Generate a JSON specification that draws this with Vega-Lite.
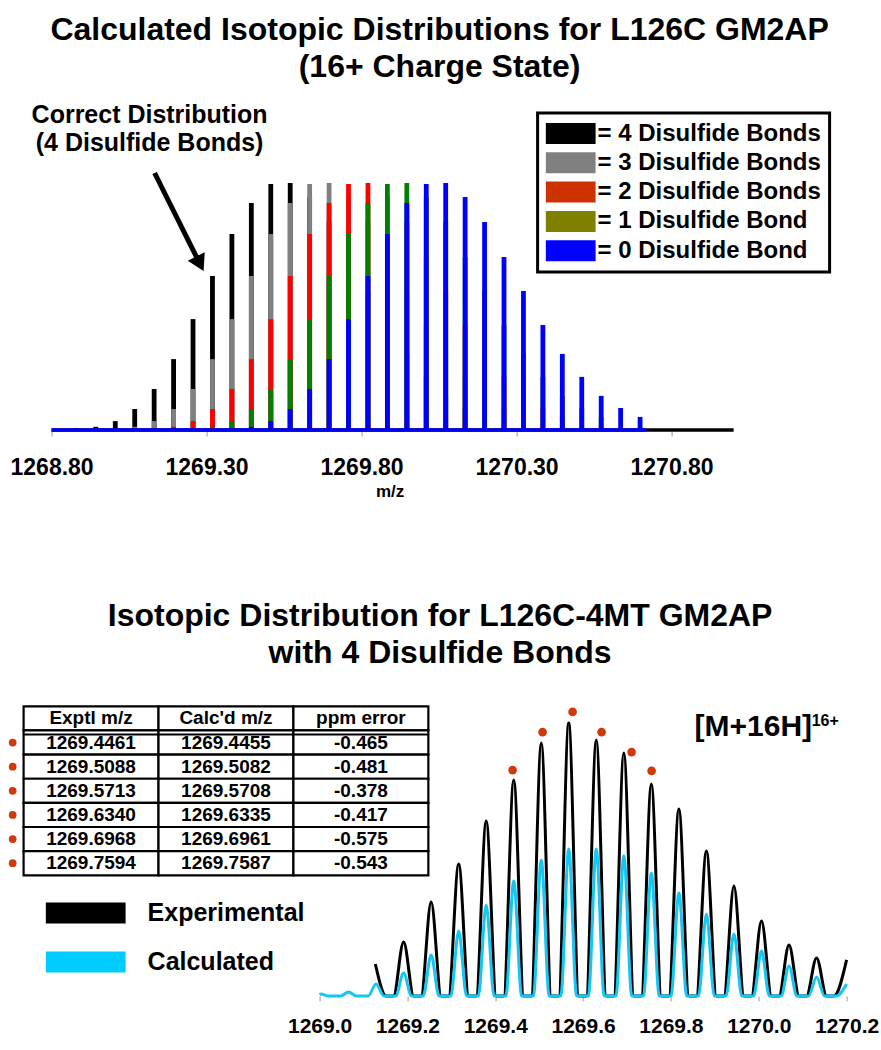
{
"$schema":"https://vega.github.io/schema/vega-lite/v6.json",
"background":"white",
"padding":{"left":8.6,"top":14,"right":2,"bottom":2},
"config":{"view":{"stroke":null},"font":"Liberation Sans","title":{"font":"Liberation Sans","fontSize":32,"fontWeight":"bold","color":"black","lineHeight":37,"anchor":"middle"}},
"bounds":"flush",
"spacing":271,
"resolve":{"scale":{"fill":"independent","stroke":"independent","color":"independent"},"legend":{"fill":"independent","stroke":"independent"}},
"vconcat":[
{
"width":710,"height":330,
"title":{"text":["Calculated Isotopic Distributions for L126C GM2AP","(16+ Charge State)"],"frame":"group","dx":61,"offset":16},
"layer":[
{"data":{"values":[
{"b":"4","m":1268.8800,"h":0.7},{"b":"4","m":1268.9427,"h":1.3},{"b":"4","m":1269.0054,"h":3.6},{"b":"4","m":1269.0681,"h":8.5},{"b":"4","m":1269.1308,"h":16.6},{"b":"4","m":1269.1935,"h":28.7},{"b":"4","m":1269.2562,"h":44.9},{"b":"4","m":1269.3189,"h":62.3},{"b":"4","m":1269.3816,"h":79.4},{"b":"4","m":1269.4443,"h":91.9},{"b":"4","m":1269.5070,"h":99.6},{"b":"4","m":1269.5697,"h":100},{"b":"4","m":1269.6324,"h":94.3},{"b":"4","m":1269.6951,"h":84.2},{"b":"4","m":1269.7578,"h":70.0},{"b":"4","m":1269.8205,"h":56.3},{"b":"4","m":1269.8832,"h":42.5},{"b":"4","m":1269.9459,"h":30.8},{"b":"4","m":1270.0086,"h":21.5},{"b":"4","m":1270.0713,"h":13.8},{"b":"4","m":1270.1340,"h":8.9},{"b":"4","m":1270.1967,"h":5.3},
{"b":"3","m":1269.0054,"h":0.7},{"b":"3","m":1269.0681,"h":1.3},{"b":"3","m":1269.1308,"h":3.6},{"b":"3","m":1269.1935,"h":8.5},{"b":"3","m":1269.2562,"h":16.6},{"b":"3","m":1269.3189,"h":28.7},{"b":"3","m":1269.3816,"h":44.9},{"b":"3","m":1269.4443,"h":62.3},{"b":"3","m":1269.5070,"h":79.4},{"b":"3","m":1269.5697,"h":91.9},{"b":"3","m":1269.6324,"h":99.6},{"b":"3","m":1269.6951,"h":100},{"b":"3","m":1269.7578,"h":94.3},{"b":"3","m":1269.8205,"h":84.2},{"b":"3","m":1269.8832,"h":70.0},{"b":"3","m":1269.9459,"h":56.3},{"b":"3","m":1270.0086,"h":42.5},{"b":"3","m":1270.0713,"h":30.8},{"b":"3","m":1270.1340,"h":21.5},{"b":"3","m":1270.1967,"h":13.8},{"b":"3","m":1270.2594,"h":8.9},{"b":"3","m":1270.3221,"h":5.3},
{"b":"2","m":1269.1308,"h":0.7},{"b":"2","m":1269.1935,"h":1.3},{"b":"2","m":1269.2562,"h":3.6},{"b":"2","m":1269.3189,"h":8.5},{"b":"2","m":1269.3816,"h":16.6},{"b":"2","m":1269.4443,"h":28.7},{"b":"2","m":1269.5070,"h":44.9},{"b":"2","m":1269.5697,"h":62.3},{"b":"2","m":1269.6324,"h":79.4},{"b":"2","m":1269.6951,"h":91.9},{"b":"2","m":1269.7578,"h":99.6},{"b":"2","m":1269.8205,"h":100},{"b":"2","m":1269.8832,"h":94.3},{"b":"2","m":1269.9459,"h":84.2},{"b":"2","m":1270.0086,"h":70.0},{"b":"2","m":1270.0713,"h":56.3},{"b":"2","m":1270.1340,"h":42.5},{"b":"2","m":1270.1967,"h":30.8},{"b":"2","m":1270.2594,"h":21.5},{"b":"2","m":1270.3221,"h":13.8},{"b":"2","m":1270.3848,"h":8.9},{"b":"2","m":1270.4475,"h":5.3},
{"b":"1","m":1269.2562,"h":0.7},{"b":"1","m":1269.3189,"h":1.3},{"b":"1","m":1269.3816,"h":3.6},{"b":"1","m":1269.4443,"h":8.5},{"b":"1","m":1269.5070,"h":16.6},{"b":"1","m":1269.5697,"h":28.7},{"b":"1","m":1269.6324,"h":44.9},{"b":"1","m":1269.6951,"h":62.3},{"b":"1","m":1269.7578,"h":79.4},{"b":"1","m":1269.8205,"h":91.9},{"b":"1","m":1269.8832,"h":99.6},{"b":"1","m":1269.9459,"h":100},{"b":"1","m":1270.0086,"h":94.3},{"b":"1","m":1270.0713,"h":84.2},{"b":"1","m":1270.1340,"h":70.0},{"b":"1","m":1270.1967,"h":56.3},{"b":"1","m":1270.2594,"h":42.5},{"b":"1","m":1270.3221,"h":30.8},{"b":"1","m":1270.3848,"h":21.5},{"b":"1","m":1270.4475,"h":13.8},{"b":"1","m":1270.5102,"h":8.9},{"b":"1","m":1270.5729,"h":5.3},
{"b":"0","m":1269.3816,"h":0.7},{"b":"0","m":1269.4443,"h":1.3},{"b":"0","m":1269.5070,"h":3.6},{"b":"0","m":1269.5697,"h":8.5},{"b":"0","m":1269.6324,"h":16.6},{"b":"0","m":1269.6951,"h":28.7},{"b":"0","m":1269.7578,"h":44.9},{"b":"0","m":1269.8205,"h":62.3},{"b":"0","m":1269.8832,"h":79.4},{"b":"0","m":1269.9459,"h":91.9},{"b":"0","m":1270.0086,"h":99.6},{"b":"0","m":1270.0713,"h":100},{"b":"0","m":1270.1340,"h":94.3},{"b":"0","m":1270.1967,"h":84.2},{"b":"0","m":1270.2594,"h":70.0},{"b":"0","m":1270.3221,"h":56.3},{"b":"0","m":1270.3848,"h":42.5},{"b":"0","m":1270.4475,"h":30.8},{"b":"0","m":1270.5102,"h":21.5},{"b":"0","m":1270.5729,"h":13.8},{"b":"0","m":1270.6356,"h":8.9},{"b":"0","m":1270.6983,"h":5.3}
]},
"mark":{"type":"rule","strokeWidth":4.8},
"encoding":{
"x":{"field":"m","type":"quantitative","scale":{"domain":[1268.70968,1271.0],"nice":false,"zero":false},
"axis":{"values":[1268.8,1269.3,1269.8,1270.3,1270.8],"format":".2f","domain":false,"grid":false,"tickSize":6,"tickColor":"#9a9a9a","labelFont":"Liberation Sans","labelFontWeight":"bold","labelFontSize":23,"labelColor":"black","labelPadding":20,"labelFlush":false,"labelOverlap":false,"title":"m/z","titleFont":"Liberation Sans","titleFontWeight":"bold","titleFontSize":17,"titleColor":"black","titlePadding":4,"titleX":366}},
"y":{"field":"h","type":"quantitative","scale":{"domain":[0,133.6],"nice":false},"axis":null},
"y2":{"datum":0},
"stroke":{"field":"b","type":"nominal","scale":{"domain":["4","3","2","1","0"],"range":["#000000","#808080","#FF0000","#008000","#0000FF"]},"legend":null}
}},
{"data":{"values":[{"b":"4","x1":1268.8,"x2":1271.0},{"b":"0","x1":1268.8,"x2":1270.719}]},
"mark":{"type":"rule","strokeWidth":3.5},
"encoding":{"x":{"field":"x1","type":"quantitative"},"x2":{"field":"x2"},"y":{"datum":0},"stroke":{"field":"b","type":"nominal","legend":null}}},
{"data":{"values":[{"t":"Correct Distribution","mz":1269.1161,"v":124.3},{"t":"(4 Disulfide Bonds)","mz":1269.1161,"v":112.95}]},
"mark":{"type":"text","font":"Liberation Sans","fontWeight":"bold","fontSize":25,"align":"center","baseline":"alphabetic","color":"black"},
"encoding":{"x":{"field":"mz","type":"quantitative"},"y":{"field":"v","type":"quantitative"},"text":{"field":"t"}}},
{"data":{"values":[{"x1":1269.1323,"y1":104.05,"x2":1269.2784,"y2":67.3}]},
"mark":{"type":"rule","strokeWidth":5,"color":"black"},
"encoding":{"x":{"field":"x1","type":"quantitative"},"y":{"field":"y1","type":"quantitative"},"x2":{"field":"x2"},"y2":{"field":"y2"}}},
{"data":{"values":[{"x":1269.2784,"y":67.3}]},
"mark":{"type":"point","shape":"triangle-down","filled":true,"color":"black","size":360,"angle":333.4,"opacity":1},
"encoding":{"x":{"field":"x","type":"quantitative"},"y":{"field":"y","type":"quantitative"}}},
{"data":{"values":[{"lab":"= 4 Disulfide Bonds"},{"lab":"= 3 Disulfide Bonds"},{"lab":"= 2 Disulfide Bonds"},{"lab":"= 1 Disulfide Bond"},{"lab":"= 0 Disulfide Bond"}]},
"mark":{"type":"point","filled":true,"opacity":0},
"encoding":{"x":{"datum":1269.5},"y":{"datum":10},
"fill":{"field":"lab","type":"nominal","scale":{"domain":["= 4 Disulfide Bonds","= 3 Disulfide Bonds","= 2 Disulfide Bonds","= 1 Disulfide Bond","= 0 Disulfide Bond"],"range":["#000000","#808080","#CC3300","#808000","#0000FF"]},
"legend":{"orient":"none","legendX":514,"legendY":13,"title":null,"symbolType":"M-1,-0.42H1V0.42H-1Z","symbolSize":2500,"symbolStrokeWidth":0,"symbolOpacity":1,"clipHeight":25,"labelFont":"Liberation Sans","labelFontWeight":"bold","labelFontSize":24,"labelColor":"black","labelOffset":2,"labelLimit":400,"rowPadding":4.3,"padding":8,"strokeColor":"black","fillColor":"white","encode":{"legend":{"update":{"strokeWidth":{"value":3}}},"symbols":{"update":{"opacity":{"value":1},"fillOpacity":{"value":1}}}}}}}}
]
},
{
"width":823,"height":295,
"title":{"text":["Isotopic Distribution for L126C-4MT GM2AP","with 4 Disulfide Bonds"],"frame":"group","dx":5,"offset":31},
"resolve":{"scale":{"x":"independent","y":"independent"}},
"layer":[
{"layer":[
{"data":{"values":[
{"mz":1269.127,"v":11.7},{"mz":1269.1516,"v":0},
{"mz":1269.1683,"v":0},{"mz":1269.1913,"v":19.8},{"mz":1269.2143,"v":0},
{"mz":1269.2310,"v":0},{"mz":1269.2540,"v":34.4},{"mz":1269.2770,"v":0},
{"mz":1269.2937,"v":0},{"mz":1269.3167,"v":48.3},{"mz":1269.3397,"v":0},
{"mz":1269.3564,"v":0},{"mz":1269.3794,"v":64.1},{"mz":1269.4024,"v":0},
{"mz":1269.4191,"v":0},{"mz":1269.4421,"v":79.1},{"mz":1269.4651,"v":0},
{"mz":1269.4818,"v":0},{"mz":1269.5048,"v":92.6},{"mz":1269.5278,"v":0},
{"mz":1269.5443,"v":0},{"mz":1269.5673,"v":99.9},{"mz":1269.5903,"v":0},
{"mz":1269.6070,"v":0},{"mz":1269.6300,"v":93.7},{"mz":1269.6530,"v":0},
{"mz":1269.6698,"v":0},{"mz":1269.6928,"v":89.0},{"mz":1269.7158,"v":0},
{"mz":1269.7324,"v":0},{"mz":1269.7554,"v":77.6},{"mz":1269.7784,"v":0},
{"mz":1269.7951,"v":0},{"mz":1269.8181,"v":68.5},{"mz":1269.8411,"v":0},
{"mz":1269.8578,"v":0},{"mz":1269.8808,"v":53.1},{"mz":1269.9038,"v":0},
{"mz":1269.9205,"v":0},{"mz":1269.9435,"v":40.3},{"mz":1269.9665,"v":0},
{"mz":1269.9832,"v":0},{"mz":1270.0062,"v":27.5},{"mz":1270.0292,"v":0},
{"mz":1270.0459,"v":0},{"mz":1270.0689,"v":18.7},{"mz":1270.0919,"v":0},
{"mz":1270.1086,"v":0},{"mz":1270.1316,"v":13.9},{"mz":1270.1546,"v":0},
{"mz":1270.1713,"v":0},{"mz":1270.2,"v":13.2}
]},
"mark":{"type":"line","interpolate":"monotone","strokeWidth":3,"color":"#000000","strokeJoin":"round"},
"encoding":{
"x":{"field":"mz","type":"quantitative","scale":{"domain":[1268.32605,1270.2],"nice":false,"zero":false},
"axis":{"values":[1269.0,1269.2,1269.4,1269.6,1269.8,1270.0,1270.2],"format":".1f","domain":false,"grid":false,"tickSize":5,"tickColor":"#9a9a9a","labelFont":"Liberation Sans","labelFontWeight":"bold","labelFontSize":21,"labelColor":"black","labelPadding":15,"labelFlush":false,"labelOverlap":false,"title":null}},
"y":{"field":"v","type":"quantitative","scale":{"domain":[0,108],"nice":false},"axis":null}
}},
{"data":{"values":[
{"mz":1269.0,"v":0.5},{"mz":1269.0032,"v":0.7},{"mz":1269.0212,"v":0},
{"mz":1269.0479,"v":0},{"mz":1269.0659,"v":1.5},{"mz":1269.0839,"v":0},
{"mz":1269.1106,"v":0},{"mz":1269.1286,"v":4.4},{"mz":1269.1466,"v":0},
{"mz":1269.1733,"v":0},{"mz":1269.1913,"v":8.4},{"mz":1269.2093,"v":0},
{"mz":1269.2360,"v":0},{"mz":1269.2540,"v":15.0},{"mz":1269.2720,"v":0},
{"mz":1269.2987,"v":0},{"mz":1269.3167,"v":23.8},{"mz":1269.3347,"v":0},
{"mz":1269.3614,"v":0},{"mz":1269.3794,"v":33.3},{"mz":1269.3974,"v":0},
{"mz":1269.4241,"v":0},{"mz":1269.4421,"v":42.1},{"mz":1269.4601,"v":0},
{"mz":1269.4868,"v":0},{"mz":1269.5048,"v":49.8},{"mz":1269.5228,"v":0},
{"mz":1269.5493,"v":0},{"mz":1269.5673,"v":53.8},{"mz":1269.5853,"v":0},
{"mz":1269.6120,"v":0},{"mz":1269.6300,"v":53.8},{"mz":1269.6480,"v":0},
{"mz":1269.6748,"v":0},{"mz":1269.6928,"v":51.3},{"mz":1269.7108,"v":0},
{"mz":1269.7374,"v":0},{"mz":1269.7554,"v":45.0},{"mz":1269.7734,"v":0},
{"mz":1269.8001,"v":0},{"mz":1269.8181,"v":37.7},{"mz":1269.8361,"v":0},
{"mz":1269.8628,"v":0},{"mz":1269.8808,"v":30.0},{"mz":1269.8988,"v":0},
{"mz":1269.9255,"v":0},{"mz":1269.9435,"v":22.7},{"mz":1269.9615,"v":0},
{"mz":1269.9882,"v":0},{"mz":1270.0062,"v":16.5},{"mz":1270.0242,"v":0},
{"mz":1270.0509,"v":0},{"mz":1270.0689,"v":11.0},{"mz":1270.0869,"v":0},
{"mz":1270.1136,"v":0},{"mz":1270.1316,"v":7.0},{"mz":1270.1496,"v":0},
{"mz":1270.1763,"v":0},{"mz":1270.2,"v":4.4}
]},
"mark":{"type":"line","interpolate":"monotone","strokeWidth":3,"color":"#14C6F2","strokeJoin":"round"},
"encoding":{"x":{"field":"mz","type":"quantitative"},"y":{"field":"v","type":"quantitative"}}},
{"data":{"values":[{"mz":1269.4395,"v":82.7},{"mz":1269.5078,"v":96.6},{"mz":1269.5761,"v":104.0},{"mz":1269.6421,"v":96.6},{"mz":1269.7104,"v":89.3},{"mz":1269.7560,"v":82.4}]},
"mark":{"type":"circle","color":"#CF3A0C","size":75,"opacity":1},
"encoding":{"x":{"field":"mz","type":"quantitative"},"y":{"field":"v","type":"quantitative"}}},
{"data":{"values":[{"t":"[M+16H]","mz":1269.8539,"v":95.2}]},
"mark":{"type":"text","align":"left","baseline":"alphabetic","font":"Liberation Sans","fontWeight":"bold","fontSize":30,"color":"black"},
"encoding":{"x":{"field":"mz","type":"quantitative"},"y":{"field":"v","type":"quantitative"},"text":{"field":"t"}}},
{"data":{"values":[{"t":"16+","mz":1270.1205,"v":98.8}]},
"mark":{"type":"text","align":"left","baseline":"alphabetic","font":"Liberation Sans","fontWeight":"bold","fontSize":16,"color":"black"},
"encoding":{"x":{"field":"mz","type":"quantitative"},"y":{"field":"v","type":"quantitative"},"text":{"field":"t"}}},
{"data":{"values":[{"lab":"Experimental"},{"lab":"Calculated"}]},
"mark":{"type":"point","filled":true,"opacity":0},
"encoding":{"x":{"datum":1269.5},"y":{"datum":10},
"fill":{"field":"lab","type":"nominal","scale":{"domain":["Experimental","Calculated"],"range":["#000000","#00CCFF"]},
"legend":{"orient":"none","legendX":22,"legendY":198.5,"title":null,"symbolType":"M-1,-0.2625H1V0.2625H-1Z","symbolSize":6400,"symbolStrokeWidth":0,"symbolOpacity":1,"clipHeight":27,"labelFont":"Liberation Sans","labelFontWeight":"bold","labelFontSize":25,"labelColor":"black","labelOffset":22,"labelLimit":400,"rowPadding":22,"padding":0,"encode":{"symbols":{"update":{"opacity":{"value":1},"fillOpacity":{"value":1}}}}}}}}
]},
{"layer":[
{"data":{"values":[
{"r":"h","c":"a","t":"Exptl m/z"},{"r":"h","c":"b","t":"Calc'd m/z"},{"r":"h","c":"c","t":"ppm error"},
{"r":"1","c":"a","t":"1269.4461"},{"r":"1","c":"b","t":"1269.4455"},{"r":"1","c":"c","t":"-0.465"},
{"r":"2","c":"a","t":"1269.5088"},{"r":"2","c":"b","t":"1269.5082"},{"r":"2","c":"c","t":"-0.481"},
{"r":"3","c":"a","t":"1269.5713"},{"r":"3","c":"b","t":"1269.5708"},{"r":"3","c":"c","t":"-0.378"},
{"r":"4","c":"a","t":"1269.6340"},{"r":"4","c":"b","t":"1269.6335"},{"r":"4","c":"c","t":"-0.417"},
{"r":"5","c":"a","t":"1269.6968"},{"r":"5","c":"b","t":"1269.6961"},{"r":"5","c":"c","t":"-0.575"},
{"r":"6","c":"a","t":"1269.7594"},{"r":"6","c":"b","t":"1269.7587"},{"r":"6","c":"c","t":"-0.543"}
]},
"layer":[
{"mark":{"type":"rect","fill":"white","stroke":"black","strokeWidth":2.2},
"encoding":{"x":{"field":"c","type":"nominal","scale":{"domain":["a","b","c","d1","d2","d3"],"paddingInner":0,"paddingOuter":0.05,"align":0},"axis":null},
"y":{"field":"r","type":"nominal","scale":{"domain":["h","1","2","3","4","5","6","e1","e2","e3","e4","e5"],"paddingInner":0,"paddingOuter":0.11,"align":1},"axis":null}}},
{"mark":{"type":"text","font":"Liberation Sans","fontWeight":"bold","fontSize":19,"color":"black","baseline":"middle","align":"center"},
"encoding":{"x":{"field":"c","type":"nominal"},"y":{"field":"r","type":"nominal"},"text":{"field":"t"}}}
]},
{"data":{"values":[{"c":"a","r":"1"},{"c":"b","r":"1"},{"c":"c","r":"1"}]},
"mark":{"type":"tick","orient":"horizontal","size":135,"thickness":2,"color":"black","yOffset":-8,"opacity":1},
"encoding":{"x":{"field":"c","type":"nominal"},"y":{"field":"r","type":"nominal"}}},
{"data":{"values":[{"c":"a","r":"1"},{"c":"a","r":"2"},{"c":"a","r":"3"},{"c":"a","r":"4"},{"c":"a","r":"5"},{"c":"a","r":"6"}]},
"mark":{"type":"circle","color":"#CF3A0C","size":60,"opacity":1,"xOffset":-78.4},
"encoding":{"x":{"field":"c","type":"nominal"},"y":{"field":"r","type":"nominal"}}}
]}
]
}
]
}
